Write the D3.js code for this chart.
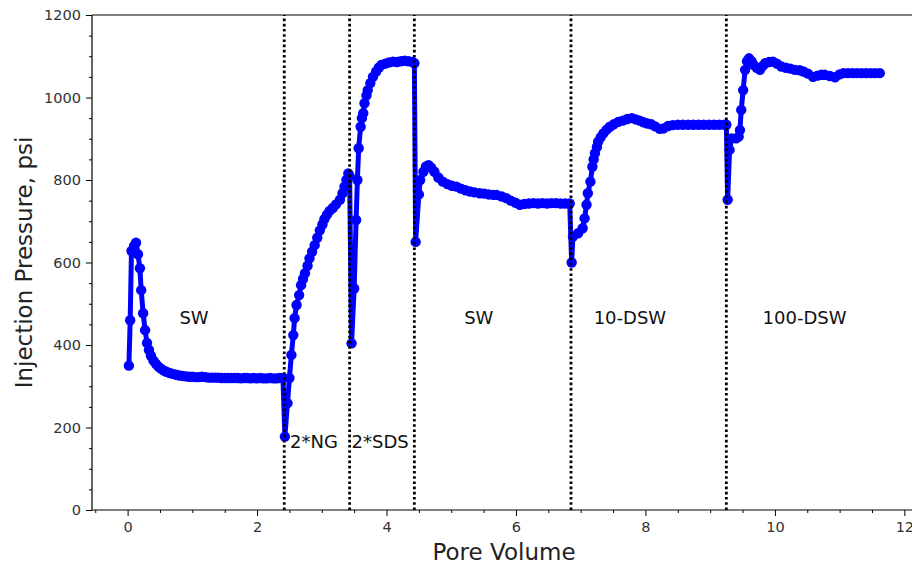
<!DOCTYPE html>
<html>
<head>
<meta charset="utf-8">
<script src="https://cdn.jsdelivr.net/npm/d3@7/dist/d3.min.js"></script>
<style>
  html, body { margin: 0; padding: 0; background: #fff; }
  svg { display: block; font-family: "DejaVu Sans", sans-serif; }
</style>
</head>
<body>
<svg id="chart" width="912" height="567"></svg>
<script>
// Injection pressure (psi) vs. pore volumes injected, one array per injected fluid.
const sw1 = [
  [0.02,350],[0.04,460],[0.06,628],[0.10,640],[0.13,648],[0.16,620],[0.19,586],[0.21,533],
  [0.24,477],[0.27,436],[0.30,405],[0.33,388],[0.36,374],[0.40,362],[0.44,354],[0.48,347],
  [0.52,342],[0.56,338],[0.60,335],[0.65,332],[0.70,330],[0.75,328],[0.80,326],[0.85,325],
  [0.90,324],[0.95,323],[1.00,323],[1.05,322],[1.10,322],[1.15,323],[1.20,322],[1.25,321],
  [1.30,321],[1.35,321],[1.40,321],[1.45,320],[1.50,320],[1.55,320],[1.60,320],[1.65,320],
  [1.70,320],[1.75,319],[1.80,320],[1.85,320],[1.90,319],[1.95,320],[2.00,319],[2.05,320],
  [2.10,319],[2.15,319],[2.20,320],[2.25,319],[2.30,319],[2.35,320],[2.40,320]
];
const ng = [
  [2.43,178],[2.47,259],[2.50,320],[2.53,376],[2.56,424],[2.58,465],[2.61,497],[2.65,521],
  [2.68,545],[2.71,560],[2.74,574],[2.78,592],[2.81,610],[2.85,626],[2.89,642],[2.93,660],
  [2.97,678],[3.01,692],[3.04,705],[3.08,716],[3.12,725],[3.17,732],[3.22,741],[3.28,752],
  [3.32,768],[3.35,784],[3.38,800],[3.41,816],[3.43,810]
];
const sds = [
  [3.46,404],[3.50,537],[3.53,703],[3.55,800],[3.57,877],[3.60,929],[3.62,950],[3.64,962],
  [3.66,986],[3.69,1005],[3.71,1018],[3.75,1035],[3.79,1050],[3.84,1063],[3.88,1072],[3.92,1079],
  [3.98,1082],[4.04,1085],[4.10,1087],[4.16,1086],[4.22,1088],[4.28,1089],[4.34,1088],[4.40,1086],
  [4.43,1083]
];
const sw2 = [
  [4.45,650],[4.50,765],[4.52,800],[4.57,820],[4.61,833],[4.65,836],[4.69,830],[4.74,820],
  [4.80,806],[4.87,796],[4.94,790],[5.01,786],[5.08,784],[5.15,779],[5.22,775],[5.29,772],
  [5.36,770],[5.44,768],[5.51,767],[5.58,765],[5.65,764],[5.70,764],[5.78,760],[5.85,756],
  [5.92,750],[5.99,745],[6.06,740],[6.13,742],[6.20,743],[6.27,744],[6.34,743],[6.41,744],
  [6.48,743],[6.55,744],[6.62,744],[6.69,743],[6.76,743],[6.83,743]
];
const dsw10 = [
  [6.86,600],[6.88,663],[6.96,671],[7.03,683],[7.06,707],[7.09,740],[7.11,768],[7.15,796],
  [7.18,832],[7.20,850],[7.22,865],[7.25,880],[7.27,893],[7.31,904],[7.35,913],[7.40,922],
  [7.45,929],[7.51,935],[7.58,941],[7.65,944],[7.72,948],[7.79,950],[7.85,947],[7.91,944],
  [7.97,940],[8.03,937],[8.09,935],[8.15,930],[8.22,924],[8.28,925],[8.35,931],[8.42,933],
  [8.50,934],[8.58,934],[8.66,934],[8.74,934],[8.82,934],[8.90,934],[8.98,934],[9.06,934],
  [9.14,934],[9.22,934],[9.25,934]
];
const dsw100 = [
  [9.27,752],[9.30,873],[9.33,901],[9.40,901],[9.44,905],[9.46,921],[9.48,970],[9.51,1018],
  [9.54,1067],[9.57,1088],[9.60,1095],[9.64,1088],[9.67,1079],[9.72,1072],[9.77,1067],[9.81,1076],
  [9.85,1083],[9.91,1086],[9.97,1087],[10.03,1082],[10.10,1075],[10.17,1072],[10.24,1070],[10.31,1067],
  [10.38,1066],[10.44,1063],[10.51,1058],[10.59,1050],[10.66,1053],[10.72,1055],[10.77,1055],[10.85,1052],
  [10.93,1049],[11.00,1056],[11.06,1059],[11.13,1059],[11.20,1059],[11.27,1059],[11.34,1059],[11.41,1059],
  [11.48,1059],[11.55,1059],[11.62,1059]
];

// Pore volumes at which the injected fluid was switched
const switchPoints = [2.42, 3.43, 4.43, 6.85, 9.25];

// Stage annotations: [pore volume, psi, text]
const stageLabels = [
  [0.80, 450, "SW"],
  [2.51, 150, "2*NG"],
  [3.46, 150, "2*SDS"],
  [5.20, 450, "SW"],
  [7.20, 450, "10-DSW"],
  [9.81, 450, "100-DSW"]
];

const xMajorTicks = [0, 2, 4, 6, 8, 10, 12];
const yMajorTicks = [0, 200, 400, 600, 800, 1000, 1200];

const series = [].concat(sw1, ng, sds, sw2, dsw10, dsw100);

const svg = d3.select("#chart");
const padL = 92, padR = 916, padT = 15, padB = 510;

const x = d3.scaleLinear().domain([-0.55, 12.18]).range([padL, padR]);
const y = d3.scaleLinear().domain([0, 1200]).range([padB, padT]);

const plot = svg.append("g");

// pressure trace
plot.append("path")
  .datum(series)
  .attr("fill", "none")
  .attr("stroke", "#0000ff")
  .attr("stroke-width", 5)
  .attr("stroke-linejoin", "round")
  .attr("d", d3.line().x(d => x(d[0])).y(d => y(d[1])));

plot.append("g").selectAll("circle")
  .data(series)
  .join("circle")
  .attr("cx", d => x(d[0]))
  .attr("cy", d => y(d[1]))
  .attr("r", 5.2)
  .attr("fill", "#0000ff");

// fluid switch markers
plot.append("g").selectAll("line")
  .data(switchPoints)
  .join("line")
  .attr("x1", d => x(d)).attr("x2", d => x(d))
  .attr("y1", y(0)).attr("y2", y(1200))
  .attr("stroke", "#000")
  .attr("stroke-width", 2.8)
  .attr("stroke-dasharray", "2.6,2.6");

// stage names
plot.append("g").selectAll("text")
  .data(stageLabels)
  .join("text")
  .attr("x", d => x(d[0]))
  .attr("y", d => y(d[1]))
  .attr("font-size", 18)
  .attr("fill", "#111")
  .text(d => d[2]);

// axes
const tickFont = g => g.selectAll("text")
  .attr("font-size", 14.5)
  .attr("fill", "#333")
  .attr("font-family", "DejaVu Sans, sans-serif");

const yAxis = svg.append("g")
  .attr("transform", `translate(${padL},0)`)
  .call(d3.axisLeft(y).tickValues(yMajorTicks).tickSize(6).tickPadding(5).tickFormat(d3.format("d")))
  .call(tickFont);
yAxis.select(".domain").remove();

svg.append("g")
  .attr("transform", `translate(${padL},0)`)
  .call(d3.axisLeft(y).tickValues(d3.range(0, 1201, 50).filter(v => v % 200 !== 0)).tickSize(3).tickFormat(""))
  .select(".domain").remove();

const xAxis = svg.append("g")
  .attr("transform", `translate(0,${padB})`)
  .call(d3.axisBottom(x).tickValues(xMajorTicks).tickSize(6).tickPadding(6).tickFormat(d3.format("d")))
  .call(tickFont);
xAxis.select(".domain").remove();

svg.append("g")
  .attr("transform", `translate(0,${padB})`)
  .call(d3.axisBottom(x).tickValues(d3.range(-0.5, 12.01, 0.5).filter(v => v % 2 !== 0)).tickSize(3).tickFormat(""))
  .select(".domain").remove();

svg.selectAll(".tick line").attr("stroke", "#000").attr("stroke-width", 1);

// spines: left, bottom, top
const spines = svg.append("g").attr("stroke", "#000").attr("stroke-width", 1.2);
spines.append("line").attr("x1", padL).attr("x2", padL).attr("y1", padT).attr("y2", padB);
spines.append("line").attr("x1", padL).attr("x2", padR).attr("y1", padB).attr("y2", padB);
spines.append("line").attr("x1", padL).attr("x2", padR).attr("y1", padT).attr("y2", padT);

// axis titles
svg.append("text")
  .attr("x", (padL + padR) / 2)
  .attr("y", 560)
  .attr("text-anchor", "middle")
  .attr("font-size", 23)
  .attr("fill", "#222")
  .text("Pore Volume");

svg.append("text")
  .attr("transform", `translate(32,${(padT + padB) / 2}) rotate(-90)`)
  .attr("text-anchor", "middle")
  .attr("font-size", 23)
  .attr("fill", "#222")
  .text("Injection Pressure, psi");
</script>
</body>
</html>
